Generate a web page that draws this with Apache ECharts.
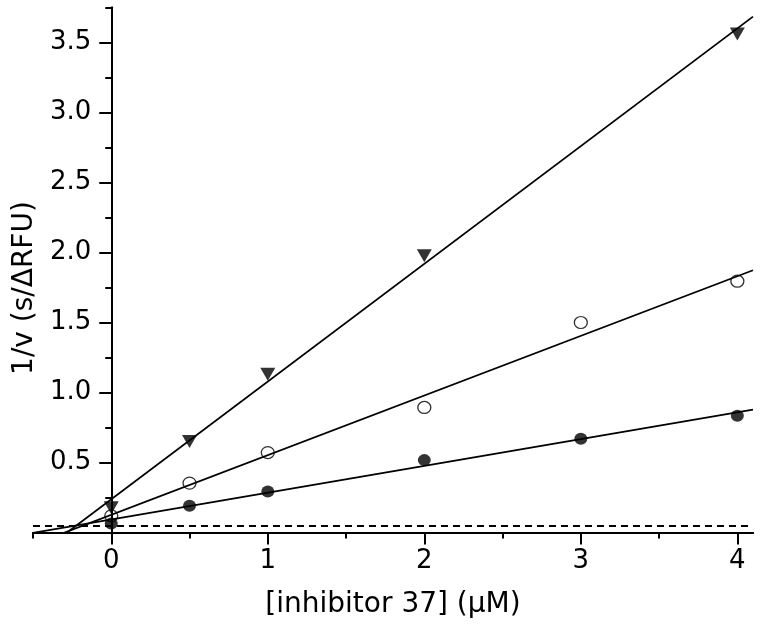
<!DOCTYPE html>
<html>
<head>
<meta charset="utf-8">
<script src="https://cdn.jsdelivr.net/npm/echarts@6/dist/echarts.min.js"></script>
<style>
  html, body { margin: 0; padding: 0; background: #fff; }
  #chart { width: 760px; height: 642px; }
</style>
</head>
<body>
<div id="chart"></div>
<script>
// axis extents and ticks
const xRange = [-0.5, 4.1];
const yRange = [0, 3.75];
const xMajorTicks = [0, 1, 2, 3, 4];
const xMinorTicks = [-0.5, 0.5, 1.5, 2.5, 3.5];
const yMajorTicks = [0.5, 1, 1.5, 2, 2.5, 3, 3.5];
const yMinorTicks = [0.25, 0.75, 1.25, 1.75, 2.25, 2.75, 3.25, 3.75];

// triangles (highest substrate series)
const triX = [0, 0.5, 1, 2, 4];
const triY = [0.176, 0.65, 1.131, 1.976, 3.56];
// open circles
const openX = [0, 0.5, 1, 2, 3, 4];
const openY = [0.119, 0.353, 0.571, 0.893, 1.5, 1.795];
// filled circles
const fillX = [0, 0.5, 1, 2, 3, 4];
const fillY = [0.065, 0.191, 0.293, 0.517, 0.67, 0.834];

// dashed horizontal reference level
const refLevel = 0.05;

const fontFamily = "'DejaVu Sans', sans-serif";

// least squares line over the whole x range (clipped by the grid)
function linearFit(xs, ys) {
  const n = xs.length;
  const mx = xs.reduce((a, b) => a + b, 0) / n;
  const my = ys.reduce((a, b) => a + b, 0) / n;
  let sxx = 0, sxy = 0;
  xs.forEach((x, i) => {
    sxx += (x - mx) * (x - mx);
    sxy += (x - mx) * (ys[i] - my);
  });
  const slope = sxy / sxx;
  const icpt = my - slope * mx;
  return xRange.map((x) => [x, icpt + slope * x]);
}

const zip = (xs, ys) => xs.map((x, i) => [x, ys[i]]);

const chart = echarts.init(document.getElementById("chart"));

const grid = { left: 33, right: 7, top: 7.5, bottom: 109.5 };
// the y axis crosses the x axis at x = 0
const gridWidth = 760 - grid.left - grid.right;
const yAxisOffset = -((0 - xRange[0]) / (xRange[1] - xRange[0])) * gridWidth;

const axisLine = { onZero: false, lineStyle: { color: "#000", width: 2 } };
const tickStyle = { color: "#000", width: 2 };

const fitLine = (name, data) => ({
  name: name,
  type: "line",
  data: data,
  showSymbol: false,
  silent: true,
  lineStyle: { color: "#000", width: 1.8 },
  z: 1,
});

chart.setOption({
  animation: false,
  backgroundColor: "#fff",
  grid: { ...grid, containLabel: false, outerBoundsMode: "none" },
  xAxis: [
    {
      type: "value",
      position: "bottom",
      min: xRange[0],
      max: xRange[1],
      axisLine: axisLine,
      axisTick: { customValues: xMinorTicks, length: 6, lineStyle: tickStyle },
      axisLabel: { show: false },
      splitLine: { show: false },
    },
    {
      type: "value",
      position: "bottom",
      min: xRange[0],
      max: xRange[1],
      axisLine: axisLine,
      axisTick: { customValues: xMajorTicks, length: 12, lineStyle: tickStyle },
      axisLabel: {
        customValues: xMajorTicks,
        margin: 16,
        fontSize: 26,
        fontFamily: fontFamily,
        color: "#000",
      },
      splitLine: { show: false },
      name: "[inhibitor 37] (\u03bcM)",
      nameLocation: "middle",
      nameGap: 58,
      nameTextStyle: { fontSize: 28, fontFamily: fontFamily, color: "#000" },
    },
  ],
  yAxis: [
    {
      type: "value",
      position: "left",
      offset: yAxisOffset,
      min: yRange[0],
      max: yRange[1],
      axisLine: axisLine,
      axisTick: { customValues: yMinorTicks, length: 6, lineStyle: tickStyle },
      axisLabel: { show: false },
      splitLine: { show: false },
    },
    {
      type: "value",
      position: "left",
      offset: yAxisOffset,
      min: yRange[0],
      max: yRange[1],
      axisLine: axisLine,
      axisTick: { customValues: yMajorTicks, length: 12, lineStyle: tickStyle },
      axisLabel: {
        customValues: yMajorTicks,
        margin: 20,
        fontSize: 26,
        fontFamily: fontFamily,
        color: "#000",
        formatter: (v) => v.toFixed(1),
      },
      splitLine: { show: false },
      name: "1/v (s/\u0394RFU)",
      nameLocation: "middle",
      nameGap: 72,
      nameTextStyle: {
        fontSize: 28,
        fontFamily: fontFamily,
        color: "#000",
        padding: [0, 36, 0, 0],
      },
    },
  ],
  series: [
    {
      ...fitLine("fit triangles", linearFit(triX, triY)),
      markLine: {
        silent: true,
        symbol: "none",
        label: { show: false },
        lineStyle: { color: "#000", width: 2, type: [7, 5] },
        data: [{ yAxis: refLevel }],
      },
    },
    fitLine("fit open", linearFit(openX, openY)),
    fitLine("fit filled", linearFit(fillX, fillY)),
    {
      name: "triangles",
      type: "scatter",
      data: zip(triX, triY),
      symbol: "triangle",
      symbolRotate: 180,
      symbolSize: [15, 13],
      itemStyle: { color: "#000" },
      z: 3,
    },
    {
      name: "open",
      type: "scatter",
      data: zip(openX, openY),
      symbol: "circle",
      symbolSize: [13, 12],
      itemStyle: { color: "rgba(255,255,255,0)", borderColor: "#000", borderWidth: 1.3 },
      z: 3,
    },
    {
      name: "filled",
      type: "scatter",
      data: zip(fillX, fillY),
      symbol: "circle",
      symbolSize: [13, 12],
      itemStyle: { color: "#000" },
      z: 3,
    },
  ],
});
</script>
</body>
</html>
